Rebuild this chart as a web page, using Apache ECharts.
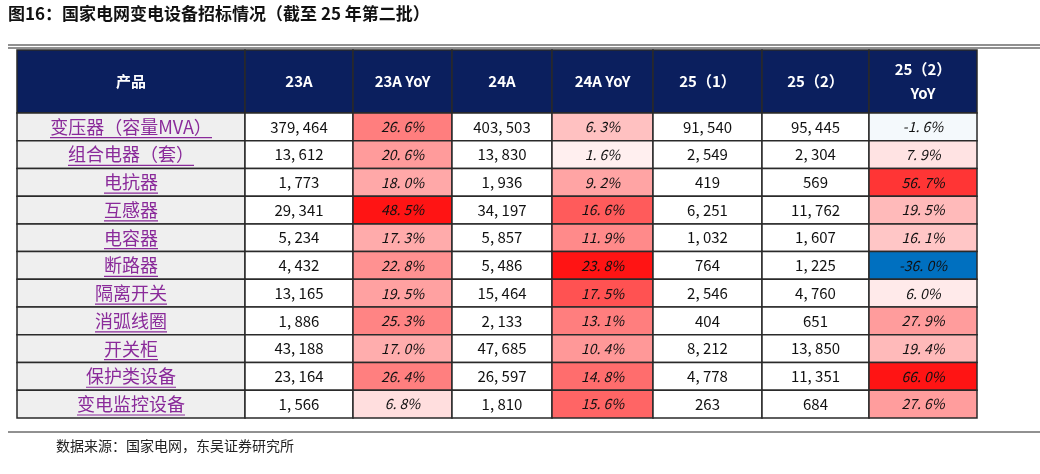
<!DOCTYPE html>
<html><head><meta charset="utf-8">
<script src="https://cdn.jsdelivr.net/npm/echarts@6/dist/echarts.min.js"></script>
<style>body{margin:0;background:#fff}#c{width:1040px;height:474px}</style>
</head><body><div id="c"></div>
<script>
var headers = ['产品', '23A', '23A YoY', '24A', '24A YoY', '25（1）', '25（2）', '25（2）\nYoY'];
var products = ['变压器（容量MVA）', '组合电器（套）', '电抗器', '互感器', '电容器', '断路器', '隔离开关', '消弧线圈', '开关柜', '保护类设备', '变电监控设备'];
var a23 = [379464, 13612, 1773, 29341, 5234, 4432, 13165, 1886, 43188, 23164, 1566];
var yoy23 = [26.6, 20.6, 18.0, 48.5, 17.3, 22.8, 19.5, 25.3, 17.0, 26.4, 6.8];
var a24 = [403503, 13830, 1936, 34197, 5857, 5486, 15464, 2133, 47685, 26597, 1810];
var yoy24 = [6.3, 1.6, 9.2, 16.6, 11.9, 23.8, 17.5, 13.1, 10.4, 14.8, 15.6];
var b251 = [91540, 2549, 419, 6251, 1032, 764, 2546, 404, 8212, 4778, 263];
var b252 = [95445, 2304, 569, 11762, 1607, 1225, 4760, 651, 13850, 11351, 684];
var yoy252 = [-1.6, 7.9, 56.7, 19.5, 16.1, -36.0, 6.0, 27.9, 19.4, 66.0, 27.6];

// column edges (x axis units) and header height (y axis units, 1 = one row)
var edges = [0, 228, 336, 435, 535, 636, 745, 852, 960];
var headH = 2.27;

function fmtNum(v) { return v.toLocaleString('en-US').replace(/,/g, ', '); }
function fmtPct(v) { return v.toFixed(1).replace('.', '. ') + '%'; }
function mix(a, b, t) {
  var r = Math.round(a[0] + (b[0] - a[0]) * t), g = Math.round(a[1] + (b[1] - a[1]) * t), bl = Math.round(a[2] + (b[2] - a[2]) * t);
  return 'rgb(' + r + ',' + g + ',' + bl + ')';
}
function scaleColor(arr, v) {
  var mx = Math.max.apply(null, arr), mn = Math.min.apply(null, arr);
  if (v >= 0) return mix([255, 255, 255], [255, 20, 20], v / mx);
  return mix([255, 255, 255], [0, 112, 192], v / mn);
}

var cells = [];
headers.forEach(function (h, c) { cells.push({ c: c, r: -1, text: h, fill: '#0b1f5e', head: true }); });
var cols = [a23, yoy23, a24, yoy24, b251, b252, yoy252];
var isPct = [false, true, false, true, false, false, true];
products.forEach(function (p, r) {
  cells.push({ c: 0, r: r, text: p, fill: '#efefef', prod: true });
  cols.forEach(function (arr, k) {
    cells.push({ c: k + 1, r: r, text: isPct[k] ? fmtPct(arr[r]) : fmtNum(arr[r]),
      fill: isPct[k] ? scaleColor(arr, arr[r]) : '#ffffff', pct: isPct[k] });
  });
});

var myChart = echarts.init(document.getElementById('c'));
var option = {
  animation: false,
  grid: { left: 17, right: 63, top: 50, bottom: 56 },
  xAxis: { type: 'value', min: 0, max: 960, show: false },
  yAxis: { type: 'value', min: 0, max: headH + 11, inverse: true, show: false },
  graphic: [
    { type: 'text', left: 8, top: 5, style: { text: '图16：国家电网变电设备招标情况（截至 25 年第二批）', font: 'bold 17px "Noto Sans CJK SC"', fill: '#111' } },
    { type: 'line', shape: { x1: 8, y1: 45, x2: 1040, y2: 45 }, style: { stroke: '#222', lineWidth: 1.2 } },
    { type: 'line', shape: { x1: 8, y1: 48, x2: 1040, y2: 48 }, style: { stroke: '#222', lineWidth: 1 } },
    { type: 'line', shape: { x1: 8, y1: 432, x2: 1040, y2: 432 }, style: { stroke: '#222', lineWidth: 1 } },
    { type: 'text', left: 56, top: 439, style: { text: '数据来源：国家电网，东吴证券研究所', font: '14px "Noto Sans CJK SC"', fill: '#222' } }
  ],
  series: [{
    type: 'custom',
    data: cells.map(function (d) { return [d.c, d.r]; }),
    renderItem: function (params, api) {
      var d = cells[params.dataIndex];
      var y0 = d.r < 0 ? 0 : headH + d.r, y1 = d.r < 0 ? headH : headH + d.r + 1;
      var p0 = api.coord([edges[d.c], y0]), p1 = api.coord([edges[d.c + 1], y1]);
      var w = p1[0] - p0[0], h = p1[1] - p0[1];
      var children = [{
        type: 'rect', shape: { x: p0[0], y: p0[1], width: w, height: h },
        style: { fill: d.fill, stroke: '#2a2a2a', lineWidth: 1.5 }
      }, {
        type: 'text', x: p0[0] + w / 2, y: p0[1] + h / 2,
        style: {
          text: d.text, align: 'center', verticalAlign: 'middle', lineHeight: 24,
          fill: d.head ? '#fff' : (d.prod ? '#8a2a9a' : '#111'),
          font: (d.head ? 'bold 15px' : (d.pct ? 'italic 14px' : (d.prod ? '18px' : '15px'))) + ' "Noto Sans CJK SC"'
        }
      }];
      if (d.prod) {
        var n = d.text.length, lw = n * 18 * (d.text.indexOf('MVA') >= 0 ? 0.9 : 1);
        children.push({ type: 'line', shape: { x1: p0[0] + w / 2 - lw / 2, y1: p1[1] - 3, x2: p0[0] + w / 2 + lw / 2, y2: p1[1] - 3 },
          style: { stroke: '#8a2a9a', lineWidth: 1.2 } });
      }
      return { type: 'group', children: children };
    }
  }]
};
myChart.setOption(option);
</script></body></html>
